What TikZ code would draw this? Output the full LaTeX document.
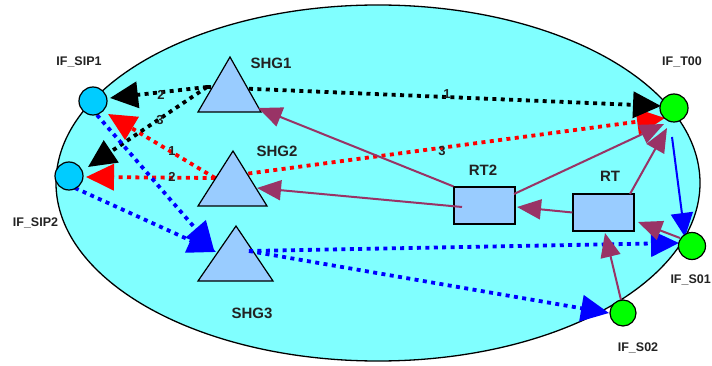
\documentclass[tikz,border=0pt]{standalone}
\usepackage{fontspec}
\setmainfont{Liberation Sans}
\usetikzlibrary{arrows.meta}
\definecolor{ellfill}{HTML}{80FFFF}
\definecolor{boxfill}{HTML}{99CCFF}
\definecolor{sipfill}{HTML}{00CCFF}
\definecolor{grn}{HTML}{00FF00}
\definecolor{mar}{HTML}{993366}
\definecolor{txt}{HTML}{222222}
\begin{document}
\begin{tikzpicture}[x=1pt,y=-1pt,
 dotline/.style={line width=3.8pt, dash pattern=on 4pt off 4.4pt, -{Triangle[length=28pt,width=26pt]}},
 marline/.style={mar, line width=2pt, -{Triangle[length=24pt,width=20pt]}},
 port/.style={circle, draw, line width=1.2pt, minimum size=28pt, inner sep=0pt},
 lbl/.style={font=\bfseries\fontsize{12.5}{14}\selectfont, text=txt},
 big/.style={font=\bfseries\fontsize{15}{17}\selectfont, text=txt},
 num/.style={font=\bfseries\fontsize{13}{14}\selectfont, text=txt},
 tri/.style={draw, line width=1.2pt, fill=boxfill},
 boxn/.style={draw, line width=1.2pt, fill=boxfill, minimum width=61pt, minimum height=37pt, inner sep=0pt}]
\useasboundingbox (0,0) rectangle (712,366);
\draw[line width=1.3pt, fill=ellfill] (378,183) ellipse [x radius=322pt, y radius=178pt];

% endpoints
\coordinate (bo) at (207,87);
\coordinate (ro) at (215,178);
\coordinate (bSIP1) at (110,98);
\coordinate (bSIP2) at (88,167);
\coordinate (bT00) at (661,106);
\coordinate (rSIP1) at (108,114);
\coordinate (rSIP2) at (86,177);
\coordinate (rT00) at (665,118);
\coordinate (s1o) at (97,115);
\coordinate (s2o) at (75,188);
\coordinate (g3a) at (214,250);
\coordinate (g3b) at (216,252);
\coordinate (g3o) at (249,251);
\coordinate (s01in) at (679,243);
\coordinate (s02in) at (609,313);

% dotted connectors
\draw[dotline, red] (ro) -- (rT00);
\draw[dotline, black] (bo) -- (bT00);
\draw[dotline, red] (ro) -- (rSIP1);
\draw[dotline, black] (bo) -- (bSIP1);
\draw[dotline, black] (bo) -- (bSIP2);
\draw[dotline, red] (ro) -- (rSIP2);
\draw[dotline, blue] (s1o) -- (g3a);
\draw[dotline, blue] (s2o) -- (g3b);

% triangles
\path[tri] (198,112) -- (230,57) -- (261,112) -- cycle;
\path[tri] (198,206) -- (233,151) -- (267,206) -- cycle;
\path[tri] (198,281) -- (236,226) -- (273,281) -- cycle;
\coordinate (SHG1) at (230,94);
\coordinate (SHG2) at (233,188);
\coordinate (SHG3) at (236,263);

\draw[dotline, blue] (g3o) -- (s01in);
\draw[dotline, blue] (g3o) -- (s02in);

% boxes
\node[boxn] (RT2) at (484.5,205.5) {};
\node[boxn] (RT) at (603.5,212.5) {};

% maroon connectors
\coordinate (m1) at (258,108);
\coordinate (m2o) at (462,207);
\coordinate (m2) at (257,188);
\coordinate (m3o) at (514,194);
\coordinate (m3) at (664,124);
\coordinate (m4o) at (630,194);
\coordinate (m4) at (667,128);
\coordinate (m5) at (517,207);
\coordinate (m6o) at (680,238);
\coordinate (m6) at (638,222);
\coordinate (m7o) at (621,300);
\coordinate (m7) at (605,233);
\draw[marline] (RT2.north west) -- (m1);
\draw[marline] (m2o) -- (m2);
\draw[marline] (m3o) -- (m3);
\draw[marline] (m4o) -- (m4);
\draw[marline] (RT.west) -- (m5);
\draw[marline] (m6o) -- (m6);
\draw[marline] (m7o) -- (m7);

% blue solid
\coordinate (bl1) at (672,137);
\coordinate (bl2) at (685,237);
\draw[blue, line width=2pt, -{Triangle[length=24pt,width=22pt]}] (bl1) -- (bl2);

% ports
\node[port, fill=sipfill] (SIP1) at (93,101) {};
\node[port, fill=sipfill] (SIP2) at (69,176) {};
\node[port, fill=grn] (T00) at (674,108) {};
\node[port, fill=grn, minimum size=27pt] (S01) at (692,246) {};
\node[port, fill=grn, minimum size=26pt] (S02) at (623,313) {};

% labels
\node[lbl] (lSIP1) at (79,62) {IF\_SIP1};
\node[lbl] (lSIP2) at (35.5,223) {IF\_SIP2};
\node[lbl] (lT00) at (682,62) {IF\_T00};
\node[lbl, anchor=east, inner sep=0pt] (lS01) at (711,280) {IF\_S01};
\node[lbl] (lS02) at (638,348) {IF\_S02};
\node[big] (tSHG1) at (271,63) {SHG1};
\node[big] (tSHG2) at (277,151) {SHG2};
\node[big] (tSHG3) at (252,313) {SHG3};
\node[big] (tRT2) at (483,170) {RT2};
\node[big] (tRT) at (610,176) {RT};

\node[num] (n1) at (161,95) {2};
\node[num] (n2) at (160,120) {3};
\node[num] (n3) at (172,151) {1};
\node[num] (n4) at (172,177) {2};
\node[num] (n5) at (447,94) {1};
\node[num] (n6) at (442,151) {3};
\end{tikzpicture}
\end{document}
